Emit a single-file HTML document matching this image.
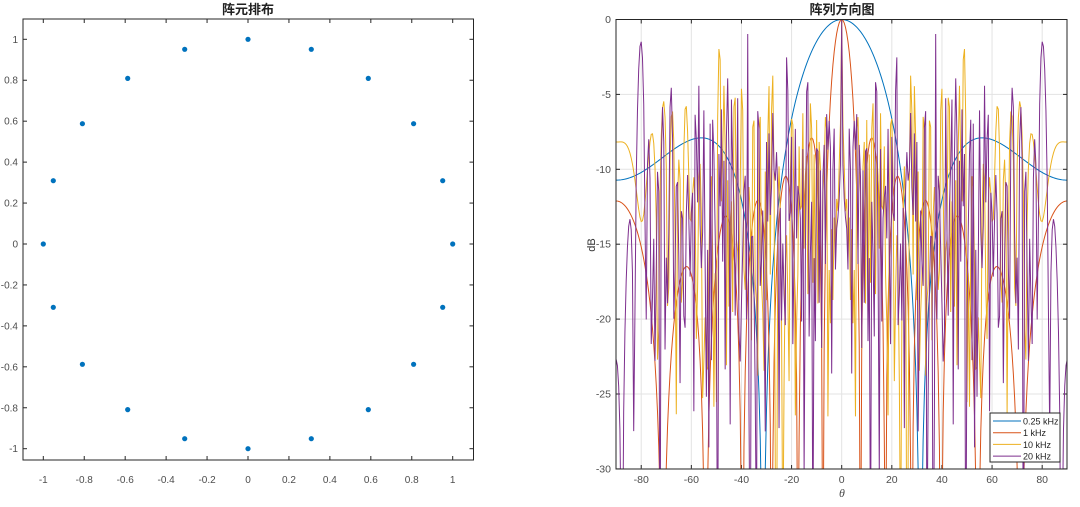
<!DOCTYPE html>
<html><head><meta charset="utf-8">
<style>
html,body{margin:0;padding:0;background:#fff;width:1080px;height:507px;overflow:hidden;}
svg{display:block;font-family:"Liberation Sans","Noto Sans CJK SC",sans-serif;}
</style></head>
<body>
<svg id="s" width="1080" height="507" viewBox="0 0 1080 507" xmlns="http://www.w3.org/2000/svg"></svg>
<script>
const S=document.getElementById('s');
let h='';
function T(x,y,t,o){h+=`<text x="${x}" y="${y}" ${o||''}>${t}</text>`;}
// ---------- Left plot ----------
const L={x0:23,x1:473.5,y0:19,y1:460};
const lx=v=>248+v*204.7, ly=v=>244-v*204.7;
h+=`<rect x="${L.x0}" y="${L.y0}" width="${L.x1-L.x0}" height="${L.y1-L.y0}" fill="#fff" stroke="#262626" stroke-width="1"/>`;
for(let i=-5;i<=5;i++){const v=i*0.2;const X=lx(v),Y=ly(v);
 const lab=(Math.abs(v)<1e-9?'0':(Math.round(v*10)/10).toString());
 h+=`<line x1="${X}" y1="${L.y1}" x2="${X}" y2="${L.y1-4}" stroke="#262626"/><line x1="${X}" y1="${L.y0}" x2="${X}" y2="${L.y0+4}" stroke="#262626"/>`;
 T(X,483,lab,'font-size="10" fill="#4d4d4d" text-anchor="middle"');
 if(Y>=L.y0&&Y<=L.y1){h+=`<line x1="${L.x0}" y1="${Y}" x2="${L.x0+4}" y2="${Y}" stroke="#262626"/><line x1="${L.x1}" y1="${Y}" x2="${L.x1-4}" y2="${Y}" stroke="#262626"/>`;
 T(18,Y+3.5,lab,'font-size="10" fill="#4d4d4d" text-anchor="end"');}
}
for(let n=0;n<20;n++){const a=n*Math.PI/10;h+=`<circle cx="${lx(Math.cos(a)).toFixed(1)}" cy="${ly(Math.sin(a)).toFixed(1)}" r="2.6" fill="#0072BD"/>`;}
T(248,14,'阵元排布','font-size="13" font-weight="bold" fill="#222" text-anchor="middle"');
// ---------- Right plot ----------
const R={x0:616,x1:1067,y0:19.5,y1:469};
const rx=d=>841.7+d*2.506, ry=db=>19.5-db*14.98;
h+=`<rect x="${R.x0}" y="${R.y0}" width="${R.x1-R.x0}" height="${R.y1-R.y0}" fill="#fff"/>`;
for(let d=-80;d<=80;d+=20){const X=rx(d);h+=`<line x1="${X}" y1="${R.y0}" x2="${X}" y2="${R.y1}" stroke="#e3e3e3"/>`;
 h+=`<line x1="${X}" y1="${R.y1}" x2="${X}" y2="${R.y1-4}" stroke="#262626"/><line x1="${X}" y1="${R.y0}" x2="${X}" y2="${R.y0+4}" stroke="#262626"/>`;
 T(X,483,d,'font-size="10.5" fill="#4d4d4d" text-anchor="middle"');}
for(let db=0;db>=-30;db-=5){const Y=ry(db);h+=`<line x1="${R.x0}" y1="${Y}" x2="${R.x1}" y2="${Y}" stroke="#e3e3e3"/>`;
 h+=`<line x1="${R.x0}" y1="${Y}" x2="${R.x0+4}" y2="${Y}" stroke="#262626"/><line x1="${R.x1}" y1="${Y}" x2="${R.x1-4}" y2="${Y}" stroke="#262626"/>`;
 T(611,Y+3.5,db,'font-size="10.5" fill="#4d4d4d" text-anchor="end"');}
h+=`<clipPath id="c"><rect x="${R.x0}" y="${R.y0}" width="${R.x1-R.x0}" height="${R.y1-R.y0}"/></clipPath>`;
const freqs=[250,1000,10000,20000], cols=['#0072BD','#D95319','#EDB120','#7E2F8E'];
const N=20,Rad=1,c=340;const cph=[];for(let n=0;n<N;n++)cph.push(Math.cos(2*Math.PI*n/N));
h+='<g clip-path="url(#c)" fill="none" stroke-width="1">';
freqs.forEach((f,fi)=>{const k=2*Math.PI*f/c*Rad;const M=360;let p='';
 for(let i=0;i<=M;i++){const th=-90+180*i/M;const s=Math.sin(th*Math.PI/180);let re=0,im=0;
  for(let n=0;n<N;n++){const a=k*s*cph[n];re+=Math.cos(a);im+=Math.sin(a);}
  let db=20*Math.log10(Math.max(Math.hypot(re,im)/N,1e-6));if(db<-40)db=-40;
  p+=(i?'L':'M')+rx(th).toFixed(2)+' '+ry(db).toFixed(2);}
 h+=`<path d="${p}" stroke="${cols[fi]}" stroke-width="1"/>`;});
h+='</g>';
h+=`<rect x="${R.x0}" y="${R.y0}" width="${R.x1-R.x0}" height="${R.y1-R.y0}" fill="none" stroke="#262626"/>`;
// legend
h+=`<rect x="990" y="413" width="70" height="49" fill="#fff" stroke="#262626"/>`;
['0.25 kHz','1 kHz','10 kHz','20 kHz'].forEach((t,i)=>{const Y=421+i*11.7;
 h+=`<line x1="993" y1="${Y}" x2="1021" y2="${Y}" stroke="${cols[i]}"/>`;
 T(1023,Y+3.5,t,'font-size="9" fill="#222"');});
T(842,14,'阵列方向图','font-size="13" font-weight="bold" fill="#222" text-anchor="middle"');
T(842,497,'θ','font-size="12" font-style="italic" fill="#4d4d4d" text-anchor="middle" font-family="Liberation Serif"');
T(0,0,'dB','font-size="11" fill="#333" text-anchor="middle" transform="translate(595,245) rotate(-90)"');
S.innerHTML=h;
</script>
</body></html>
